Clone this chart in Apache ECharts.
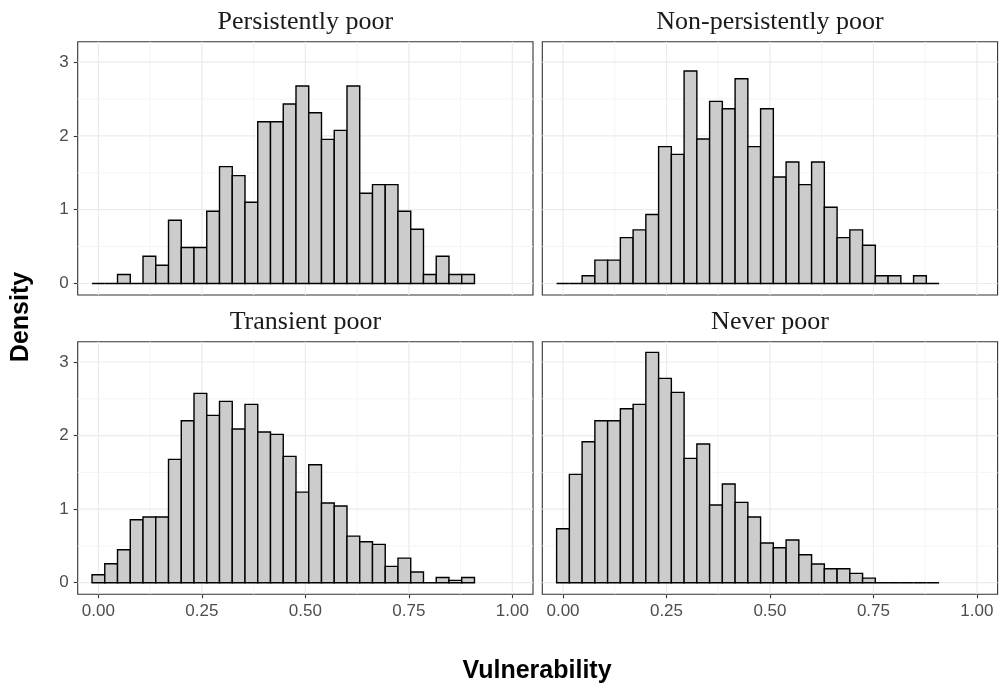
<!DOCTYPE html>
<html>
<head>
<meta charset="utf-8">
<script src="https://cdn.jsdelivr.net/npm/echarts@6/dist/echarts.min.js"></script>
<style>html,body{margin:0;padding:0;background:#fff}#c{width:1000px;height:687px}</style>
</head>
<body>
<div id="c"></div>
<script>
// ---- data ----
const panelNames = ['Persistently poor', 'Non-persistently poor', 'Transient poor', 'Never poor'];
const binStart = -0.0154;
const binWidth = 0.0308;
const persistentlyPoor = [0, 0, 0.122, 0, 0.37, 0.248, 0.857, 0.487, 0.487, 0.979, 1.583, 1.461, 1.10, 2.192, 2.192, 2.431, 2.675, 2.314, 1.953, 2.075, 2.675, 1.222, 1.34, 1.34, 0.979, 0.735, 0.122, 0.37, 0.122, 0.122];
const nonPersistentlyPoor = [0, 0, 0.104, 0.316, 0.316, 0.622, 0.726, 0.934, 1.854, 1.750, 2.878, 1.958, 2.467, 2.368, 2.774, 1.854, 2.368, 1.443, 1.646, 1.34, 1.646, 1.033, 0.622, 0.726, 0.519, 0.104, 0.104, 0, 0.104, 0];
const transientPoor = [0.109, 0.258, 0.449, 0.856, 0.893, 0.893, 1.676, 2.202, 2.574, 2.275, 2.465, 2.089, 2.424, 2.048, 2.016, 1.717, 1.232, 1.604, 1.083, 1.042, 0.634, 0.557, 0.521, 0.222, 0.335, 0.145, 0, 0.072, 0.032, 0.072];
const neverPoor = [0.734, 1.473, 1.917, 2.202, 2.202, 2.365, 2.424, 3.131, 2.778, 2.587, 1.690, 1.885, 1.056, 1.341, 1.092, 0.893, 0.539, 0.476, 0.580, 0.381, 0.254, 0.190, 0.190, 0.127, 0.063, 0, 0, 0, 0, 0];
const panelValues = [persistentlyPoor, nonPersistentlyPoor, transientPoor, neverPoor];
const xTickValues = [0, 0.25, 0.5, 0.75, 1];
const xTickLabels = ['0.00', '0.25', '0.50', '0.75', '1.00'];
const xMinor = [0.125, 0.375, 0.625, 0.875];
const yTickValues = [0, 1, 2, 3];
const yTickLabels = ['0', '1', '2', '3'];
const yMinor = [0.5, 1.5, 2.5];

// ---- layout ----
const grids = [
  {left: 77.7, top: 41.7, width: 455.3, height: 253.3},
  {left: 542.3, top: 41.7, width: 455.3, height: 253.3},
  {left: 77.7, top: 341.7, width: 455.3, height: 252.5},
  {left: 542.3, top: 341.7, width: 455.3, height: 252.5}
];
const labelFont = 'Liberation Sans';

const option = {
  backgroundColor: '#ffffff',
  animation: false,
  grid: grids.map(g => Object.assign({show: true, borderColor: '#333333', borderWidth: 1.1, backgroundColor: 'transparent', containLabel: false}, g)),
  xAxis: grids.map((g, i) => {
    const bottom = i >= 2;
    return {
      gridIndex: i, type: 'value', min: -0.05, max: 1.05, position: 'bottom',
      axisLine: {show: false, onZero: false}, splitLine: {show: false},
      axisTick: {show: bottom, customValues: xTickValues, length: 4, lineStyle: {color: '#333333', width: 1.1}},
      axisLabel: {show: bottom, customValues: xTickValues, margin: 9, fontSize: 17, color: '#4D4D4D', fontFamily: labelFont,
        formatter: v => xTickLabels[xTickValues.findIndex(t => Math.abs(t - v) < 1e-9)]}
    };
  }),
  yAxis: grids.map((g, i) => {
    const left = i % 2 === 0;
    return {
      gridIndex: i, type: 'value', min: -0.156, max: 3.276, position: 'left',
      axisLine: {show: false, onZero: false}, splitLine: {show: false},
      axisTick: {show: left, customValues: yTickValues, length: 4, lineStyle: {color: '#333333', width: 1.1}},
      axisLabel: {show: left, customValues: yTickValues, margin: 9, fontSize: 17, color: '#4D4D4D', fontFamily: labelFont,
        formatter: v => yTickLabels[yTickValues.findIndex(t => Math.abs(t - v) < 1e-9)]}
    };
  }),
  series: [],
  graphic: []
};

// grid lines data: [orientation(0 vertical,1 horizontal), value, major(1/0)]
const gridLineData = [];
xTickValues.forEach(v => gridLineData.push([0, v, 1]));
xMinor.forEach(v => gridLineData.push([0, v, 0]));
yTickValues.forEach(v => gridLineData.push([1, v, 1]));
yMinor.forEach(v => gridLineData.push([1, v, 0]));

panelValues.forEach((vals, i) => {
  option.series.push({
    type: 'custom', xAxisIndex: i, yAxisIndex: i, z: 1, silent: true,
    data: gridLineData,
    renderItem: (params, api) => {
      const cs = params.coordSys;
      const o = api.value(0), v = api.value(1), major = api.value(2);
      const style = {stroke: major ? '#EBEBEB' : '#F4F4F4', lineWidth: major ? 1.2 : 1};
      if (o === 0) {
        const px = api.coord([v, 0])[0];
        return {type: 'line', shape: {x1: px, y1: cs.y, x2: px, y2: cs.y + cs.height}, style};
      }
      const py = api.coord([0, v])[1];
      return {type: 'line', shape: {x1: cs.x, y1: py, x2: cs.x + cs.width, y2: py}, style};
    }
  });
  option.series.push({
    type: 'custom', xAxisIndex: i, yAxisIndex: i, z: 2,
    encode: {x: [0, 1], y: 2},
    data: vals.map((v, k) => [binStart + k * binWidth, binStart + (k + 1) * binWidth, v]),
    renderItem: (params, api) => {
      const p0 = api.coord([api.value(0), 0]);
      const p1 = api.coord([api.value(1), api.value(2)]);
      return {type: 'rect', shape: {x: p0[0], y: p1[1], width: p1[0] - p0[0], height: p0[1] - p1[1]},
        style: {fill: '#CCCCCC', stroke: '#000000', lineWidth: 1.4}};
    }
  });
  const g = grids[i];
  option.graphic.push({
    type: 'text', x: g.left + g.width / 2, y: i < 2 ? 22 : 322.5,
    style: {text: panelNames[i], fill: '#1A1A1A', font: '26px "Liberation Serif"', textAlign: 'center', textVerticalAlign: 'middle'}
  });
});

option.graphic.push({
  type: 'text', x: 21, y: 317, rotation: Math.PI / 2,
  style: {text: 'Density', fill: '#000000', font: 'bold 25px "Liberation Sans"', textAlign: 'center', textVerticalAlign: 'middle'}
});
option.graphic.push({
  type: 'text', x: 537, y: 671,
  style: {text: 'Vulnerability', fill: '#000000', font: 'bold 25px "Liberation Sans"', textAlign: 'center', textVerticalAlign: 'middle'}
});

const chart = echarts.init(document.getElementById('c'), null, {renderer: 'canvas'});
chart.setOption(option);
</script>
</body>
</html>
